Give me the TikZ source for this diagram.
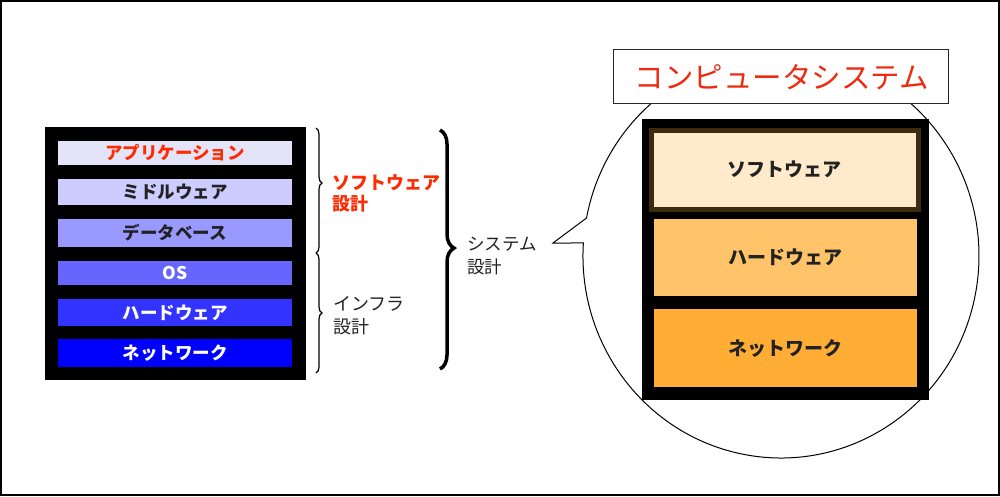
\documentclass[tikz,border=0pt]{standalone}
\usepackage{fontspec}
\setmainfont{Noto Sans CJK JP}
\usetikzlibrary{decorations.pathreplacing}
\definecolor{lav1}{HTML}{E4E4F9}
\definecolor{lav2}{HTML}{CCCCFF}
\definecolor{lav3}{HTML}{9999FF}
\definecolor{lav4}{HTML}{6666FF}
\definecolor{lav5}{HTML}{3333FF}
\definecolor{lav6}{HTML}{0000FF}
\definecolor{redtxt}{HTML}{FF2A00}
\definecolor{titlered}{HTML}{EE2A0E}
\definecolor{darktxt}{HTML}{222222}
\definecolor{brownb}{HTML}{3D2B10}
\definecolor{or1}{HTML}{FFEACB}
\definecolor{or2}{HTML}{FFC46A}
\definecolor{or3}{HTML}{FFAD34}
\begin{document}
\begin{tikzpicture}[x=1pt,y=-1pt,
  bar/.style={rectangle, inner sep=0pt, outer sep=0pt, minimum width=234pt, font=\fontsize{17.5}{20}\selectfont\bfseries},
  obox/.style={rectangle, inner sep=0pt, outer sep=0pt, minimum width=263pt, font=\fontsize{19}{22}\selectfont\bfseries, text=darktxt},
  lbl/.style={anchor=west, align=left, inner sep=0pt},
  smallbrace/.style={decorate, line width=1.2pt, decoration={brace, amplitude=6pt}},
  bigbrace/.style={decorate, line width=3.5pt, decoration={brace, amplitude=14pt, aspect=0.494}}]
\useasboundingbox (0,0) rectangle (1000,496);
\fill[white] (0,0) rectangle (1000,496);
\draw[line width=2pt] (1,1) rectangle (999,495);

% left stack
\fill[black] (45,127) rectangle (306,380);
\node[bar, fill=lav1, minimum height=24pt, text=redtxt] (app) at (175,153) {アプリケーション};
\node[bar, fill=lav2, minimum height=26pt, text=darktxt] (mid) at (175,192) {ミドルウェア};
\node[bar, fill=lav3, minimum height=28pt, text=darktxt] (db) at (175,233) {データベース};
\node[bar, fill=lav4, minimum height=24pt, text=white] (os) at (175,273) {OS};
\node[bar, fill=lav5, minimum height=27pt, text=white] (hw) at (175,312.5) {ハードウェア};
\node[bar, fill=lav6, minimum height=28pt, text=white] (nw) at (175,353) {ネットワーク};

% braces
\draw[smallbrace, decoration={aspect=0.44}] (316,128) -- (316,253);
\draw[smallbrace, decoration={aspect=0.5}] (316,253) -- (316,373);
\draw[bigbrace] (440,130) -- (440,369);

\node[lbl, text=redtxt, font=\fontsize{18}{21}\selectfont\bfseries] (swd) at (332,193) {ソフトウェア\\設計};
\node[lbl, text=darktxt, font=\fontsize{18}{23}\selectfont] (infd) at (333,316) {インフラ\\設計};
\node[lbl, text=darktxt, font=\fontsize{17.5}{23}\selectfont] (sysd) at (467,256) {システム\\設計};

% bubble
\coordinate (tip) at (553,243);
\draw[fill=white, line width=1pt] (tip) -- (586.5,218)
  arc[start angle=190.84, end angle=543.69, x radius=198, y radius=202] -- cycle;
\draw[fill=white, line width=1pt, draw=black!85] (613,49) rectangle (948,103);
\node[text=titlered, font=\fontsize{29.5}{32}\selectfont, inner sep=0pt] (title) at (782,77) {コンピュータシステム};

% right stack
\fill[black] (642,119) rectangle (929,400);
\node[obox, fill=or1, draw=brownb, line width=5pt, minimum width=267pt, minimum height=79pt] (sw) at (784.5,169.5) {ソフトウェア};
\node[obox, fill=or2, minimum height=77pt] (hw2) at (785.5,257.5) {ハードウェア};
\node[obox, fill=or3, minimum height=78pt] (nw2) at (785.5,348) {ネットワーク};
\end{tikzpicture}
\end{document}
